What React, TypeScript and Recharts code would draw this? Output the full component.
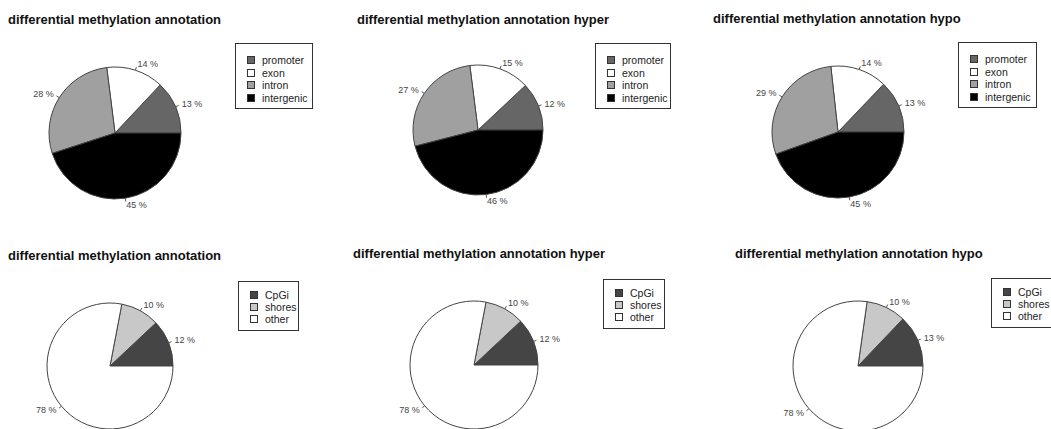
import React from "react"
import { Cell, Legend, Pie, PieChart } from "recharts"

// genomic region shares (%)
const regionNames = ["promoter", "exon", "intron", "intergenic"]
const regionColors = ["#666666", "#ffffff", "#a0a0a0", "#000000"]
const regionAll = [13, 14, 28, 45]
const regionHyper = [12, 15, 27, 46]
const regionHypo = [13, 14, 29, 45]

// CpG context shares (%)
const cpgNames = ["CpGi", "shores", "other"]
const cpgColors = ["#454545", "#c8c8c8", "#ffffff"]
const cpgAll = [12, 10, 78]
const cpgHyper = [12, 10, 78]
const cpgHypo = [13, 10, 78]

const titles = [
   "differential methylation annotation",
   "differential methylation annotation hyper",
   "differential methylation annotation hypo",
]

const FONT = "'Liberation Sans', Arial, Helvetica, sans-serif"
const RAD = Math.PI / 180

interface PanelProps {
   left: number
   top: number
   title: string
   titleX: number
   titleY: number
   names: string[]
   colors: string[]
   values: number[]
   cx: number
   cy: number
   r: number
   legendX: number
   legendY: number
   legendW: number
   legendH: number
   rowH: number
   firstRow: number
}

// R-style outside label: short tick from r to 1.05r, text at 1.1r
const renderLabel = (props: any) => {
   const { cx, cy, midAngle, outerRadius, value } = props
   const cos = Math.cos(-midAngle * RAD)
   const sin = Math.sin(-midAngle * RAD)
   const x0 = cx + outerRadius * cos
   const y0 = cy + outerRadius * sin
   const x1 = cx + outerRadius * 1.05 * cos
   const y1 = cy + outerRadius * 1.05 * sin
   const x = cx + outerRadius * 1.1 * cos
   const y = cy + outerRadius * 1.1 * sin
   return (
      <g>
         <line x1={x0} y1={y0} x2={x1} y2={y1} stroke="#555" strokeWidth={1} />
         <text
            x={x}
            y={y}
            textAnchor={cos >= 0 ? "start" : "end"}
            dominantBaseline="central"
            fontSize={9}
            fontFamily={FONT}
            fill="#444"
         >
            {value} %
         </text>
      </g>
   )
}

const Panel: React.FC<PanelProps> = (p) => {
   const data = p.names.map((name, i) => ({ name, value: p.values[i] }))
   const W = 351
   const H = 215

   const legendBox = () => (
      <div
         style={{
            position: "relative",
            width: p.legendW,
            height: p.legendH,
            border: "1px solid #333",
            boxSizing: "border-box",
            background: "#fff",
            fontFamily: FONT,
            fontSize: 10.5,
            color: "#222",
         }}
      >
         {p.names.map((name, i) => (
            <div
               key={name}
               style={{
                  position: "absolute",
                  left: 0,
                  top: p.firstRow + i * p.rowH - 6,
                  height: 12,
                  lineHeight: "12px",
                  whiteSpace: "nowrap",
               }}
            >
               <span
                  style={{
                     position: "absolute",
                     left: 11,
                     top: 2,
                     width: 8,
                     height: 8,
                     boxSizing: "border-box",
                     border: "1px solid #333",
                     background: p.colors[i],
                  }}
               />
               <span style={{ position: "absolute", left: 26, top: 0 }}>{name}</span>
            </div>
         ))}
      </div>
   )

   return (
      <div style={{ position: "absolute", left: p.left, top: p.top, width: W, height: H }}>
         <PieChart width={W} height={H} margin={{ top: 0, right: 0, bottom: 0, left: 0 }}>
            <Pie
               data={data}
               dataKey="value"
               nameKey="name"
               cx={p.cx}
               cy={p.cy}
               outerRadius={p.r}
               startAngle={0}
               endAngle={360}
               stroke="#444"
               strokeWidth={1}
               label={renderLabel}
               labelLine={false}
               isAnimationActive={false}
            >
               {data.map((d, i) => (
                  <Cell key={d.name} fill={p.colors[i]} />
               ))}
            </Pie>
            <Legend
               content={legendBox}
               wrapperStyle={{ left: p.legendX, top: p.legendY, width: p.legendW, height: p.legendH }}
            />
         </PieChart>
         <div
            style={{
               position: "absolute",
               left: p.titleX,
               top: p.titleY - 11.5,
               fontFamily: FONT,
               fontWeight: "bold",
               fontSize: 13,
               lineHeight: "14px",
               color: "#111",
               whiteSpace: "nowrap",
            }}
         >
            {p.title}
         </div>
      </div>
   )
}

export default function App() {
   const top = { names: regionNames, colors: regionColors, legendH: 66, rowH: 12.7, firstRow: 16 }
   const bottom = { names: cpgNames, colors: cpgColors, legendH: 50, rowH: 12, firstRow: 13 }
   return (
      <div
         style={{
            position: "absolute",
            left: 0,
            top: 0,
            width: 1051,
            height: 429,
            overflow: "hidden",
            background: "#fff",
         }}
      >
         <Panel {...top} left={0} top={0} title={titles[0]} titleX={8} titleY={24}
            values={regionAll} cx={115} cy={133} r={66} legendX={235} legendY={43} legendW={78} />
         <Panel {...top} left={350} top={0} title={titles[1]} titleX={7} titleY={24}
            values={regionHyper} cx={128} cy={130} r={65} legendX={245} legendY={43} legendW={76} />
         <Panel {...top} left={700} top={0} title={titles[2]} titleX={13} titleY={23.5}
            values={regionHypo} cx={138} cy={132} r={66} legendX={258} legendY={42} legendW={79} />
         <Panel {...bottom} left={0} top={215} title={titles[0]} titleX={8} titleY={45}
            values={cpgAll} cx={110} cy={151} r={63} legendX={238} legendY={66} legendW={61} />
         <Panel {...bottom} left={350} top={215} title={titles[1]} titleX={3} titleY={43}
            values={cpgHyper} cx={124} cy={150} r={64} legendX={253} legendY={64} legendW={62} />
         <Panel {...bottom} left={700} top={215} title={titles[2]} titleX={35} titleY={43}
            values={cpgHypo} cx={158} cy={151} r={65} legendX={291} legendY={63} legendW={62} />
      </div>
   )
}
